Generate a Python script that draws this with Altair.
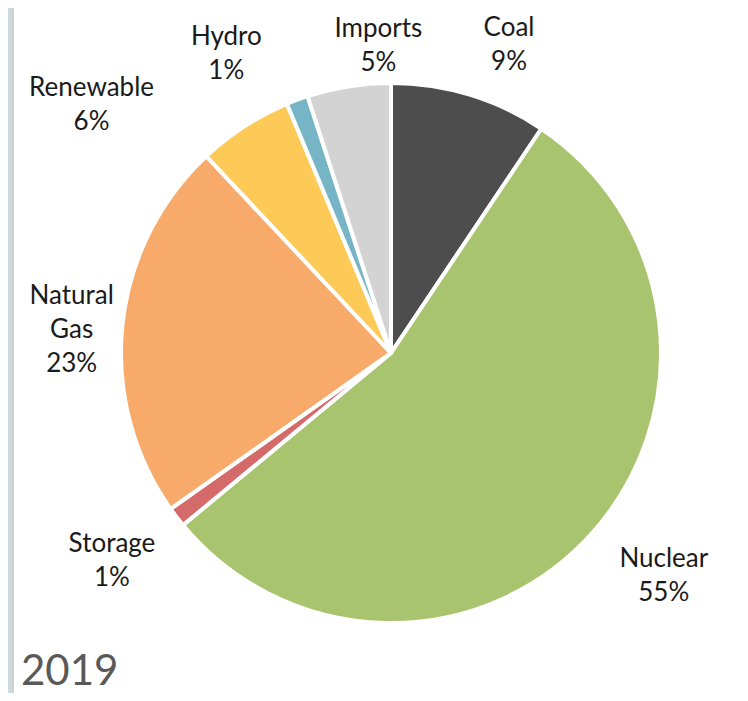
import altair as alt
import pandas as pd
import math

# ---- data ----
sources = ["Coal", "Nuclear", "Storage", "Natural\nGas", "Renewable", "Hydro", "Imports"]
shares = [9.4, 54.6, 1.2, 22.8, 5.7, 1.3, 5.0]
pct_labels = ["9%", "55%", "1%", "23%", "6%", "1%", "5%"]
colors = ["#4d4d4d", "#a9c46f", "#d46a6a", "#f8aa6b", "#fdc957", "#76b5c5", "#d3d3d3"]
year_label = "2019"

df = pd.DataFrame({
    "idx": list(range(len(sources))),
    "name": sources,
    "share": shares,
    "label": [s + "\n" + p for s, p in zip(sources, pct_labels)],
})

CX, CY = 383, 345
R = 270
LABEL_R = 330
# per-label nudges (styling)
nudges = {
    "Coal": (22, -9), "Nuclear": (28, -15), "Storage": (-17, -10), "Natural\nGas": (9, -24),
    "Renewable": (-120, 12), "Hydro": (-50, -7), "Imports": (39, 2),
}

color_scale = alt.Scale(domain=sources, range=colors)

pie = alt.Chart(df).mark_arc(outerRadius=R, stroke="white", strokeWidth=4).encode(
    theta=alt.Theta("share:Q", stack=True),
    order=alt.Order("idx:Q"),
    color=alt.Color("name:N", scale=color_scale, legend=None),
    x=alt.value(CX), y=alt.value(CY),
)

layers = [pie]
for name in sources:
    dx, dy = nudges[name]
    t = alt.Chart(df).transform_window(
        cum="sum(share)", sort=[alt.SortField("idx")], frame=[None, 0]
    ).transform_calculate(
        mid="datum.cum - datum.share / 2"
    ).transform_filter(
        alt.datum.name == name
    ).mark_text(
        font="Lato", fontSize=26, lineHeight=34, lineBreak="\n", color="#1a1a1a",
        align="center", baseline="middle", dx=dx, dy=dy, radius=LABEL_R,
    ).encode(
        theta=alt.Theta("mid:Q", scale=alt.Scale(domain=[0, 100], range=[0, 2 * math.pi])),
        text="label:N",
        x=alt.value(CX), y=alt.value(CY),
    )
    layers.append(t)

year = alt.Chart(pd.DataFrame({"t": [year_label]})).mark_text(
    font="Lato", fontSize=42, color="#595959", align="left", baseline="alphabetic"
).encode(text="t:N", x=alt.value(13), y=alt.value(677))
layers.append(year)

strip = alt.Chart(pd.DataFrame({"a": [0]})).mark_rect(color="#c9dbe1").encode(
    x=alt.value(0), x2=alt.value(4), y=alt.value(0), y2=alt.value(685)
)
edge = alt.Chart(pd.DataFrame({"a": [0]})).mark_rule(color="#d0d0d0", strokeWidth=2).encode(
    x=alt.value(5), y=alt.value(0), y2=alt.value(685)
)
layers = [strip, edge] + layers

chart = alt.layer(*layers).properties(
    width=732, height=685, padding=0, autosize=alt.AutoSizeParams(type="none"),
    background="white",
).configure_view(stroke=None)

chart.save("out.html", embed_options={"renderer": "svg", "actions": False})
